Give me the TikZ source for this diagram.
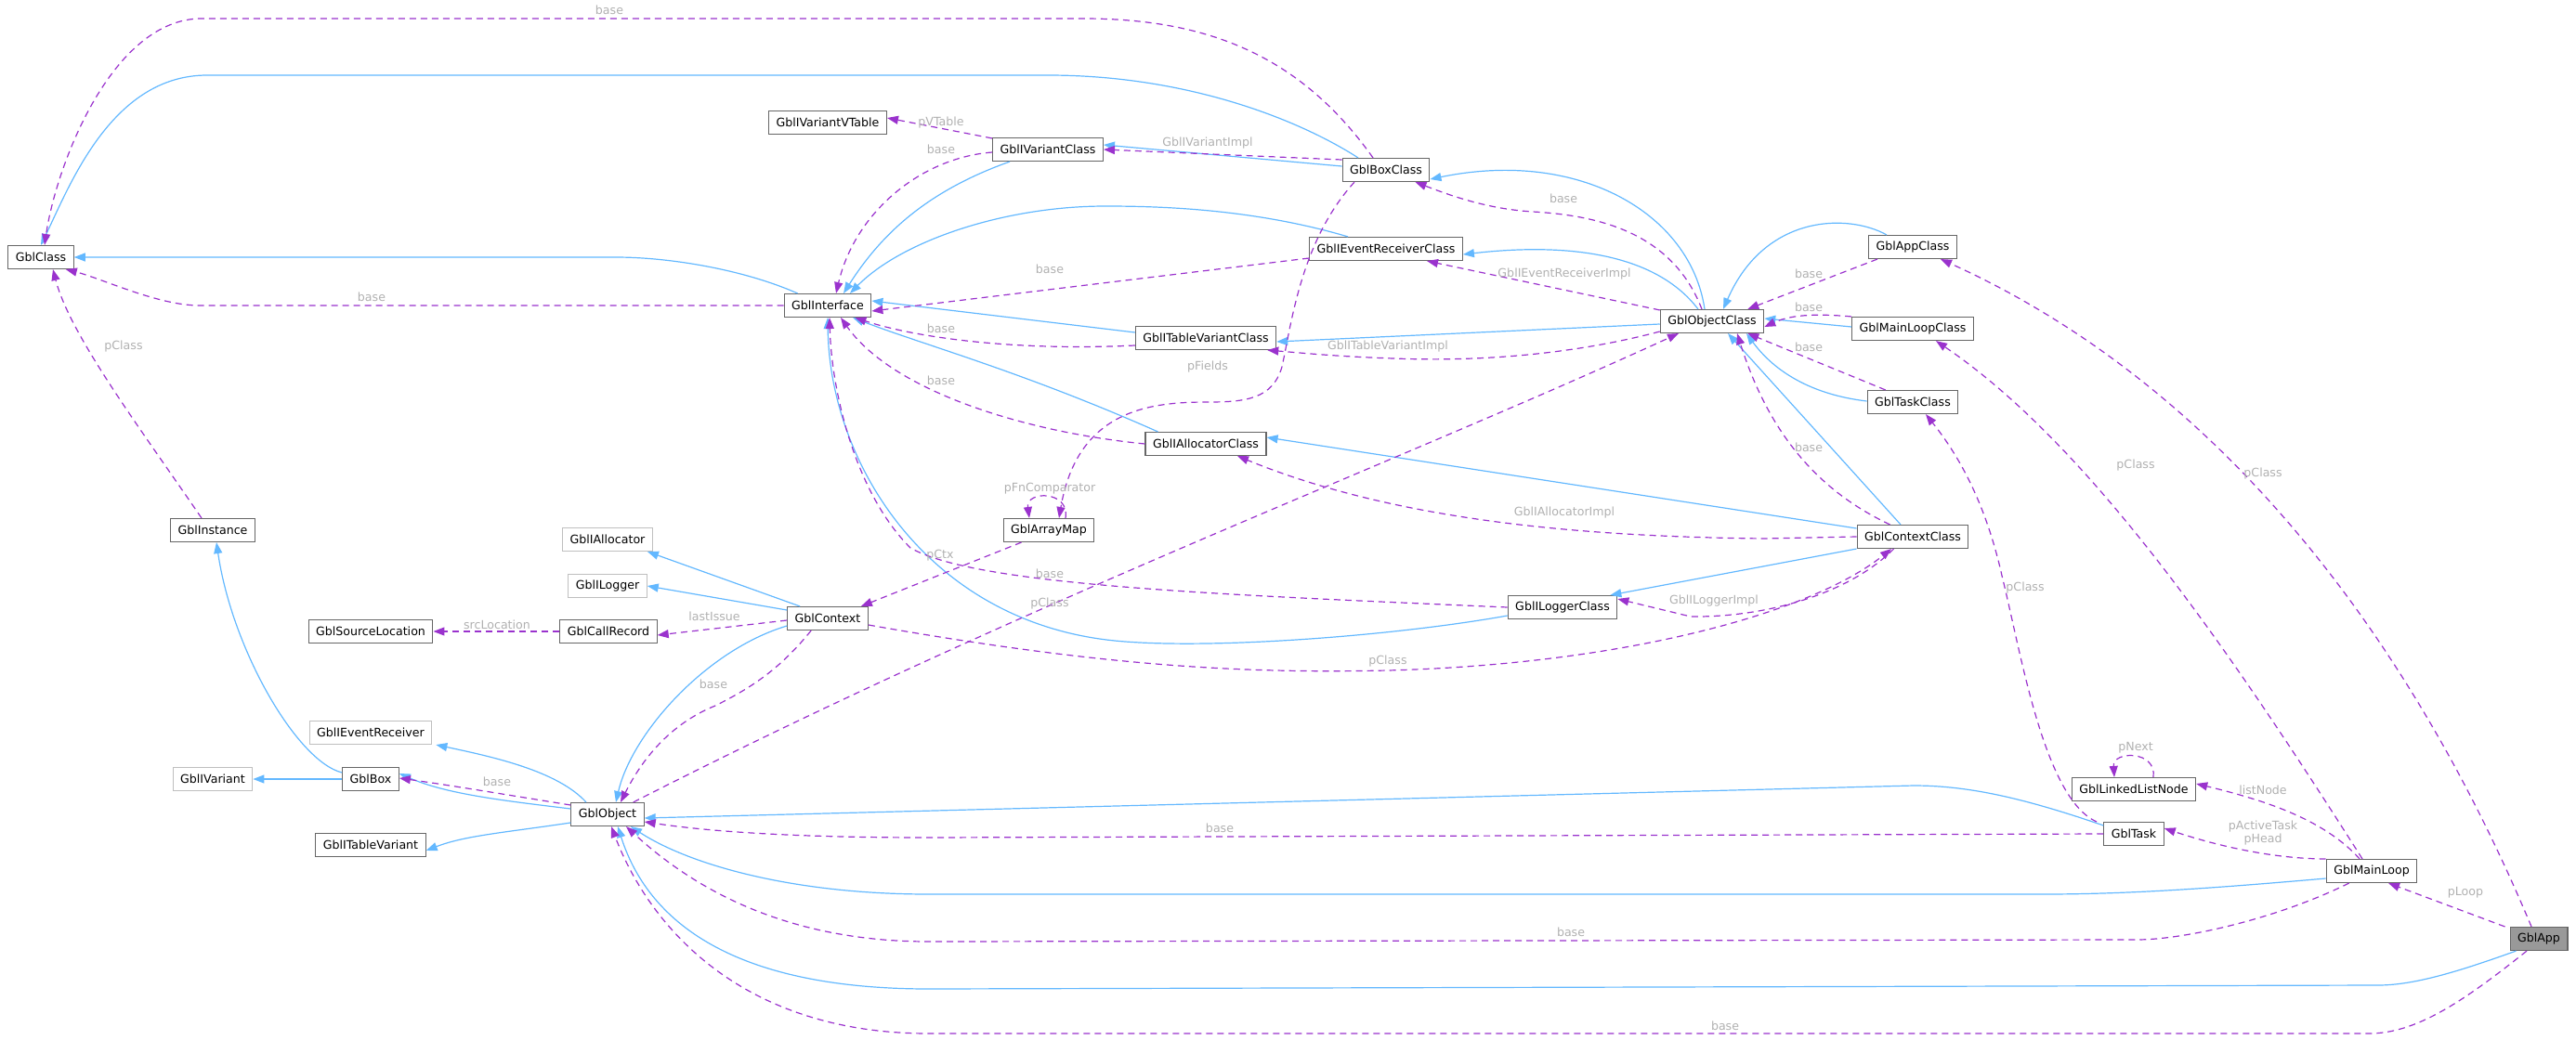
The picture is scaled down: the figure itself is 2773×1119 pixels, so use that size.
\documentclass[tikz,border=0pt]{standalone}
\usepackage{fontspec}
\setmainfont{DejaVu Sans}
\usetikzlibrary{arrows.meta}
\definecolor{inhc}{HTML}{63B8FF}
\definecolor{usec}{HTML}{9A32CD}
\definecolor{lblc}{HTML}{B0B0B0}
\definecolor{bdc}{HTML}{666666}
\definecolor{bdl}{HTML}{BFBFBF}
\begin{document}
\begin{tikzpicture}[x=1pt,y=-1pt,
  font=\fontsize{12.6}{15}\selectfont,
  box/.style={draw=bdc,line width=1.1pt,fill=white,minimum height=25pt,inner xsep=8pt,inner ysep=0pt,anchor=center},
  boxl/.style={box,draw=bdl},
  inh/.style={draw=inhc,line width=1.2pt,-{Triangle[length=12pt,width=9pt]}},
  use/.style={draw=usec,line width=1.2pt,dash pattern=on 7pt off 5pt,-{Triangle[length=12pt,width=9pt]}},
  lbl/.style={text=lblc,inner sep=1pt,align=center,font=\fontsize{12.6}{13.5}\selectfont}]
\useasboundingbox (0,0) rectangle (2773,1119);
% nodes
\node[box] (cls) at (44,277) {GblClass};
\node[box] (iface) at (891,329) {GblInterface};
\node[box] (vtab) at (891,132) {GblIVariantVTable};
\node[box] (ivc) at (1128,161) {GblIVariantClass};
\node[box] (bxc) at (1492,183) {GblBoxClass};
\node[box] (ierc) at (1492,268) {GblIEventReceiverClass};
\node[box] (objc) at (1843,346) {GblObjectClass};
\node[box] (itvc) at (1298,364) {GblITableVariantClass};
\node[box] (iac) at (1298,478) {GblIAllocatorClass};
\node[box] (amap) at (1129,571) {GblArrayMap};
\node[box] (ilc) at (1682,654) {GblILoggerClass};
\node[box] (appc) at (2059,266) {GblAppClass};
\node[box] (mlc) at (2059,354) {GblMainLoopClass};
\node[box] (tskc) at (2059,433) {GblTaskClass};
\node[box] (ctxc) at (2059,578) {GblContextClass};
\node[box] (lln) at (2297,850) {GblLinkedListNode};
\node[box] (tsk) at (2297,898) {GblTask};
\node[box] (ml) at (2553,938) {GblMainLoop};
\node[box,fill=black!40] (app) at (2733,1011) {GblApp};
\node[box] (inst) at (229,571) {GblInstance};
\node[boxl] (ialloc) at (654,581) {GblIAllocator};
\node[boxl] (ilog) at (654,631) {GblILogger};
\node[box] (srcl) at (399,680) {GblSourceLocation};
\node[box] (crec) at (655,680) {GblCallRecord};
\node[box] (ctx) at (891,666) {GblContext};
\node[boxl] (ier) at (399,789) {GblIEventReceiver};
\node[boxl] (ivar) at (229,839) {GblIVariant};
\node[box] (gbox) at (399,839) {GblBox};
\node[box] (itv) at (399,910) {GblITableVariant};
\node[box] (obj) at (654,877) {GblObject};
% inheritance
\draw[inh] (iface.north west)++(15,0) .. controls (800,290) and (720,277) .. (663,277) -- (cls.east);
\draw[inh] (bxc.north)++(-30,0) .. controls (1400,130) and (1280,81) .. (1128,81) -- (223,81) .. controls (120,81) and (75,200) .. (cls.north);
\draw[inh] (ivc.south west)++(19,0) .. controls (1000,205) and (950,250) .. ([xshift=17pt]iface.north);
\draw[inh] (ierc.north west)++(42,0) .. controls (1350,225) and (1250,222) .. (1190,222) .. controls (1080,222) and (970,260) .. ([xshift=24pt]iface.north);
\draw[inh] (itvc.west)++(0,-6) -- ([yshift=5pt]iface.east);
\draw[inh] (iac.north west)++(14,0) .. controls (1100,400) and (990,370) .. ([xshift=27pt]iface.south);
\draw[inh] (ilc.west)++(0,9) .. controls (1500,685) and (1300,700) .. (1200,690) .. controls (1000,670) and (893,500) .. (iface.south);
\draw[inh] (bxc.west)++(0,-4) -- ([yshift=5pt]ivc.east);
\draw[inh] (objc.north)++(-8,0) .. controls (1820,230) and (1700,160) .. ([yshift=-10pt]bxc.east);
\draw[inh] (objc.north)++(-15,0) .. controls (1780,270) and (1680,262) .. ([yshift=-6pt]ierc.east);
\draw[inh] (objc.west)++(0,3) -- ([yshift=-4pt]itvc.east);
\draw[inh] (appc.north west)++(20,0) .. controls (1990,230) and (1900,230) .. ([xshift=12pt]objc.north);
\draw[inh] (mlc.west)++(0,-2) -- ([yshift=3pt]objc.east);
\draw[inh] (tskc.west)++(0,-1) .. controls (1950,425) and (1910,400) .. ([xshift=37pt]objc.south);
\draw[inh] (ctxc.north)++(-13,0) -- ([xshift=17pt]objc.south);
\draw[inh] (ctxc.west)++(0,-9) -- ([yshift=7pt]iac.east);
\draw[inh] (ctxc.west)++(0,13) -- ([xshift=-8pt]ilc.north east);
\draw[inh] (ctx.north west)++(14,0) -- ([xshift=-6pt]ialloc.south east);
\draw[inh] (ctx.west)++(0,-9) -- (ilog.east);
\draw[inh] (ctx.west)++(0,8) .. controls (760,700) and (680,790) .. ([xshift=9pt]obj.north);
\draw[inh] (gbox.west)++(0,-7) .. controls (320,820) and (250,700) .. ([xshift=4pt]inst.south);
\draw[inh] (gbox.west) -- (ivar.east);
\draw[inh] (obj.west)++(0,-6) .. controls (540,862) and (480,855) .. ([yshift=6pt]gbox.east);
\draw[inh] (obj.north)++(-23,0) .. controls (600,830) and (530,815) .. ([xshift=4pt]ier.south east);
\draw[inh] (obj.west)++(0,9) .. controls (540,897) and (500,900) .. ([yshift=-6pt]itv.east);
\draw[inh] (tsk.north west)++(0,4) .. controls (2180,860) and (2120,846) .. (2060,846) -- ([yshift=-4pt]obj.east);
\draw[inh] (ml.west)++(0,8) .. controls (2400,955) and (2300,963) .. (2200,963) -- (1000,963) .. controls (850,963) and (740,930) .. ([xshift=25pt]obj.south);
\draw[inh] (app.south west)++(7,0) .. controls (2650,1045) and (2600,1061) .. (2560,1061) -- (1000,1065) .. controls (800,1065) and (700,1000) .. ([xshift=11pt]obj.south);
% usage
\draw[use] (bxc.north)++(-14,0) .. controls (1400,60) and (1300,20) .. (1166,20) -- (217,20) .. controls (120,20) and (60,180) .. ([xshift=4pt]cls.north);
\node[lbl] (l1) at (656,11) {base};
\draw[use] (iface.west) -- (215,329) .. controls (170,329) and (110,300) .. ([xshift=-9pt]cls.south east);
\node[lbl] (l2) at (400,320) {base};
\draw[use] (inst.north)++(-12,0) .. controls (150,460) and (75,360) .. ([xshift=13pt]cls.south);
\node[lbl] (l3) at (133,373) {pClass};
\draw[use] (ivc.north west)++(0,1) -- ([yshift=5pt]vtab.east);
\node[lbl] (l4) at (1013,132) {pVTable};
\draw[use] (ivc.west)++(0,3) .. controls (990,170) and (920,230) .. ([xshift=9pt]iface.north);
\node[lbl] (l5) at (1013,161) {base};
\draw[use] (bxc.west)++(0,-11) -- ([yshift=0pt]ivc.east);
\node[lbl] (l6) at (1300,154) {GblIVariantImpl};
\draw[use] (ierc.west)++(0,10) -- ([yshift=-6pt]iface.east);
\node[lbl] (l7) at (1130,290) {base};
\draw[use] (itvc.west)++(0,8) .. controls (1100,378) and (990,365) .. ([xshift=-18pt]iface.south east);
\node[lbl] (l8) at (1013,354) {base};
\draw[use] (iac.west) .. controls (1100,465) and (960,420) .. ([xshift=14pt]iface.south);
\node[lbl] (l9) at (1013,410) {base};
\draw[use] (ilc.west) .. controls (1300,640) and (1050,630) .. (980,590) .. controls (920,530) and (895,420) .. ([xshift=2pt]iface.south);
\node[lbl] (l10) at (1130,618) {base};
\draw[use] (objc.north)++(-11,0) .. controls (1800,250) and (1720,232) .. (1650,228) .. controls (1600,225) and (1560,210) .. ([xshift=-16pt]bxc.south east);
\node[lbl] (l11) at (1683,214) {base};
\draw[use] (objc.north west)++(0,1) -- ([xshift=44pt]ierc.south);
\node[lbl] (l12) at (1684,295) {GblIEventReceiverImpl};
\draw[use] (objc.west)++(0,11) .. controls (1700,380) and (1600,390) .. (1500,386) .. controls (1440,384) and (1400,380) .. ([xshift=-10pt]itvc.south east);
\node[lbl] (l13) at (1494,373) {GblITableVariantImpl};
\draw[use] (appc.south west)++(10,0) -- ([xshift=-18pt]objc.north east);
\node[lbl] (l14) at (1947,295) {base};
\draw[use] (mlc.north west) .. controls (1960,338) and (1930,338) .. ([yshift=-6pt]objc.east);
\node[lbl] (l15) at (1947,331) {base};
\draw[use] (tskc.north west)++(20,0) -- ([xshift=-18pt]objc.south east);
\node[lbl] (l16) at (1947,374) {base};
\draw[use] (ctxc.north west)++(36,0) .. controls (1960,530) and (1905,470) .. ([xshift=27pt]objc.south);
\node[lbl] (l17) at (1947,482) {base};
\draw[use] (ctxc.west) -- (1900,580) .. controls (1700,578) and (1500,560) .. ([xshift=34pt]iac.south);
\node[lbl] (l18) at (1684,552) {GblIAllocatorImpl};
\draw[use] (ctxc.south west)++(40,0) .. controls (1990,640) and (1900,665) .. (1820,664) -- ([yshift=9pt]ilc.east);
\node[lbl] (l19) at (1845,647) {GblILoggerImpl};
\draw[use] (ctx.east)++(0,7) .. controls (1200,720) and (1350,725) .. (1494,722) .. controls (1750,715) and (1950,660) .. ([xshift=-23pt]ctxc.south);
\node[lbl] (l20) at (1494,712) {pClass};
\draw[use] (obj.north east)++(-12,0) .. controls (1100,650) and (1500,500) .. ([xshift=-36pt]objc.south);
\node[lbl] (l21) at (1130,650) {pClass};
\draw[use] (bxc.south)++(-34,0) .. controls (1400,260) and (1390,350) .. (1380,395) .. controls (1370,430) and (1340,433) .. (1300,433) .. controls (1240,433) and (1160,440) .. ([xshift=11pt]amap.north);
\node[lbl] (l22) at (1300,395) {pFields};
\draw[use] ([xshift=18pt]amap.north) .. controls (1152,528) and (1104,528) .. ([xshift=-21pt]amap.north);
\node[lbl] (l23) at (1130,526) {pFnComparator};
\draw[use] (amap.south west)++(20,0) -- ([xshift=-8pt]ctx.north east);
\node[lbl] (l24) at (1012,598) {pCtx};
\draw[use] (ctx.west)++(0,2) -- ([yshift=-4pt]crec.east);
\node[lbl] (l25) at (769,664) {lastIssue};
\draw[use] (crec.west) -- (srcl.east);
\node[lbl] (l26) at (535,673) {srcLocation};
\draw[use] (ctx.south west)++(26,0) .. controls (840,720) and (810,740) .. (770,760) .. controls (720,780) and (690,820) .. ([xshift=14pt]obj.north);
\node[lbl] (l27) at (768,737) {base};
\draw[use] (obj.west)++(0,-10) .. controls (540,855) and (480,845) .. ([yshift=1pt]gbox.east);
\node[lbl] (l28) at (535,842) {base};
\draw[use] (tsk.west) -- (1000,902) .. controls (850,902) and (760,895) .. ([yshift=-8pt]obj.east);
\node[lbl] (l29) at (1313,892) {base};
\draw[use] (ml.south west)++(25,0) .. controls (2450,990) and (2350,1012) .. (2300,1012) -- (1000,1014) .. controls (850,1014) and (750,960) .. ([xshift=20pt]obj.south);
\node[lbl] (l30) at (1691,1004) {base};
\draw[use] (app.south)++(-13,0) .. controls (2650,1080) and (2600,1113) .. (2550,1113) -- (1000,1113) .. controls (800,1113) and (700,1000) .. ([xshift=4pt]obj.south);
\node[lbl] (l31) at (1857,1105) {base};
\draw[use] (tsk.north)++(-40,0) .. controls (2200,860) and (2175,700) .. (2155,620) .. controls (2135,530) and (2100,480) .. ([xshift=14pt]tskc.south);
\node[lbl] (l32) at (2180,633) {pClass};
\draw[use] (ml.north)++(-10,0) .. controls (2400,700) and (2250,480) .. ([xshift=25pt]mlc.south);
\node[lbl] (l33) at (2299,501) {pClass};
\draw[use] (app.north)++(-8,0) .. controls (2600,700) and (2400,420) .. ([xshift=30pt]appc.south);
\node[lbl] (l34) at (2436,510) {pClass};
\draw[use] ([xshift=21pt]lln.north) .. controls (2322,808) and (2274,808) .. ([xshift=-21pt]lln.north);
\node[lbl] (l35) at (2299,805) {pNext};
\draw[use] (ml.north)++(-13,0) .. controls (2500,880) and (2430,860) .. ([yshift=6pt]lln.east);
\node[lbl] (l36) at (2436,851) {listNode};
\draw[use] (ml.north west) .. controls (2450,925) and (2390,912) .. ([yshift=6pt]tsk.east);
\node[lbl] (l37) at (2436,897) {pActiveTask\\pHead};
\draw[use] (app.north west)++(-5,0) -- ([xshift=18pt]ml.south);
\node[lbl] (l38) at (2654,961) {pLoop};
\end{tikzpicture}
\end{document}
